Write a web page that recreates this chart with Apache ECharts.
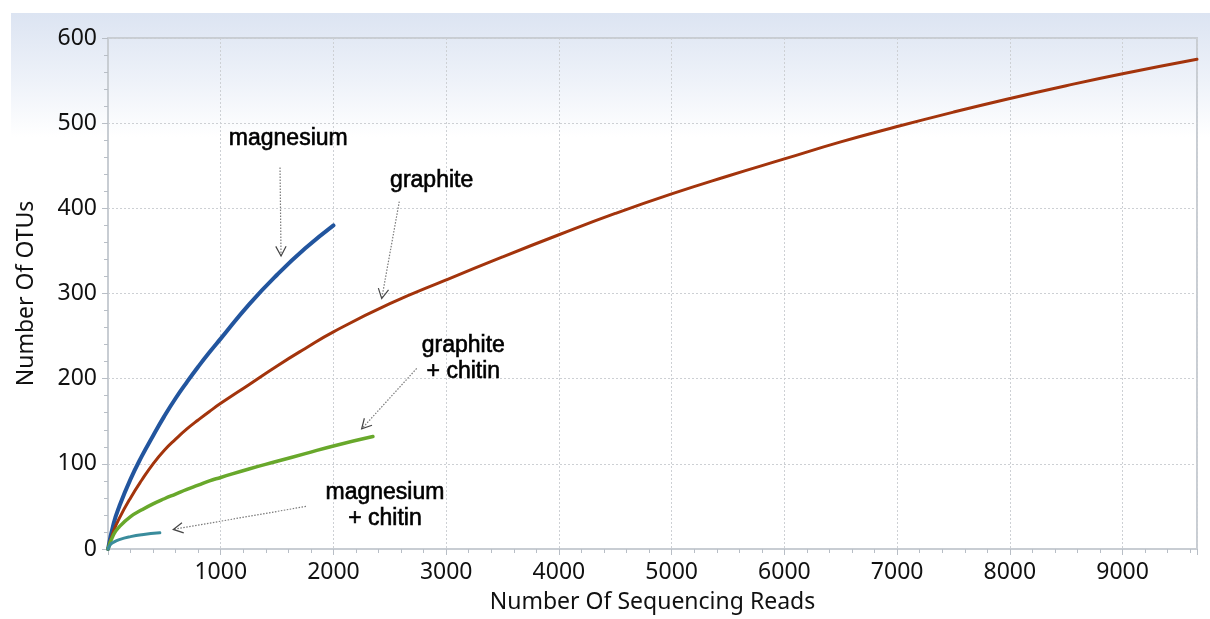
<!DOCTYPE html>
<html><head><meta charset="utf-8">
<script src="https://cdn.jsdelivr.net/npm/echarts@6/dist/echarts.min.js"></script>
<style>html,body{margin:0;padding:0;background:#fff}#c{width:1210px;height:619px}</style>
</head><body><div id="c"></div>
<script>
// ---- data ----
const magnesium = [[0,0],[50,30],[100,50],[200,82],[300,109],[400,133],[500,156],[600,177],[700,196],[800,214],[900,231],[1000,247],[1250,287],[1500,322],[1750,353],[2000,380]];
const graphite = [[0,0],[50,21],[100,36],[200,60],[300,81],[400,100],[500,116],[600,129],[700,141],[800,151.5],[900,161.5],[1000,171],[1250,193],[1500,215],[1750,235.5],[2000,255],[2500,288],[3000,316],[3500,343],[4000,369],[4500,394],[5000,417],[5500,438],[6000,458],[6500,478],[7000,496],[7500,513],[8000,529],[8500,544],[9000,558],[9660,575]];
const graphiteChitin = [[0,0],[50,17],[100,26],[200,38],[300,46],[400,53],[500,59],[600,64.5],[700,70],[800,75],[900,80],[1000,84],[1250,94],[1500,103],[1750,112],[2000,121],[2350,132]];
const magnesiumChitin = [[0,0],[20,5],[50,8],[100,11],[200,14.5],[300,16.8],[460,19]];
const xTickLabels = [1000,2000,3000,4000,5000,6000,7000,8000,9000];
const yTickLabels = [0,100,200,300,400,500,600];
const xMax = 9660;

const annotations = [
  {text:'magnesium', at:[1599,482], from:[1526,448], to:[1535,344]},
  {text:'graphite', at:[2871,433], from:[2584,408], to:[2428,294]},
  {text:'graphite\n+ chitin', at:[3152,223], from:[2738,212], to:[2250,141]},
  {text:'magnesium\n+ chitin', at:[2457,51], from:[1756,50], to:[579,23]}
];

const FONT = '"Noto Sans", "DejaVu Sans", sans-serif';
const gridCol = '#cdd0d4';
const chart = echarts.init(document.getElementById('c'), null, {renderer:'canvas'});

function mkSeries(name, data, color, width){
  return {name, type:'line', data, smooth:0.5, showSymbol:false, symbol:'none',
    lineStyle:{color, width, cap:'round', join:'round'}, itemStyle:{color}, animation:false, z:3};
}

chart.setOption({
  animation:false,
  backgroundColor:'#ffffff',
  grid:{left:108, right:13, top:38, bottom:68, show:true, borderColor:'#c8cdd3', borderWidth:2, backgroundColor:'transparent'},
  xAxis:[{
    type:'value', min:0, max:xMax, interval:1000,
    name:'Number Of Sequencing Reads', nameLocation:'middle', nameGap:42,
    nameTextStyle:{fontFamily:FONT, fontSize:23, color:'#111'},
    axisLine:{show:true, lineStyle:{color:'#c8cdd3', width:2}},
    axisTick:{show:true, length:6, lineStyle:{color:'#b8bec6'}},
    axisLabel:{show:true, margin:12, fontFamily:FONT, fontSize:23, color:'#111',
      formatter:v => xTickLabels.indexOf(v) >= 0 ? String(v) : ''},
    splitLine:{show:true, lineStyle:{color:gridCol, type:[2,2], width:1}}
  },{
    type:'value', min:0, max:xMax, interval:200, position:'bottom',
    axisLine:{show:false}, axisLabel:{show:false}, splitLine:{show:false},
    axisTick:{show:true, length:4, lineStyle:{color:'#b8bec6'}}
  }],
  yAxis:{
    type:'value', min:0, max:600, interval:100,
    name:'Number Of OTUs', nameLocation:'middle', nameGap:70,
    nameTextStyle:{fontFamily:FONT, fontSize:23, color:'#111'},
    axisLine:{show:true, lineStyle:{color:'#c8cdd3', width:2}},
    axisTick:{show:true, length:6, lineStyle:{color:'#b8bec6'}},
    minorTick:{show:true, splitNumber:5, length:4, lineStyle:{color:'#b8bec6'}},
    axisLabel:{margin:11, fontFamily:FONT, fontSize:23, color:'#111',
      formatter:v => yTickLabels.indexOf(v) >= 0 ? String(v) : ''},
    splitLine:{show:true, lineStyle:{color:gridCol, type:[2,2], width:1}}
  },
  series:[
    mkSeries('magnesium', magnesium, '#22559e', 4),
    mkSeries('graphite', graphite, '#a3340c', 3),
    mkSeries('graphite + chitin', graphiteChitin, '#68a82b', 3.5),
    mkSeries('magnesium + chitin', magnesiumChitin, '#3a8c9c', 3)
  ]
});

const g = [{
  type:'rect', z:-10, silent:true,
  shape:{x:11, y:13, width:1199, height:124},
  style:{fill:new echarts.graphic.LinearGradient(0,0,0,1,[
    {offset:0, color:'#dce4f2'},{offset:0.55, color:'#eef2f9'},{offset:1, color:'#ffffff'}])}
}];
annotations.forEach(a => {
  const p = chart.convertToPixel({gridIndex:0}, a.at);
  const f = chart.convertToPixel({gridIndex:0}, a.from);
  const t = chart.convertToPixel({gridIndex:0}, a.to);
  g.push({type:'text', z:20, style:{text:a.text, x:p[0], y:p[1], align:'center', verticalAlign:'middle',
    font:'23px "Liberation Sans", Arial, sans-serif', fill:'#000', stroke:'#000', lineWidth:0.6, lineHeight:26}});
  g.push({type:'line', z:20, shape:{x1:f[0], y1:f[1], x2:t[0], y2:t[1]},
    style:{stroke:'#7a7a7a', lineWidth:1.2, lineDash:[1.5,1.5]}});
  const dx = t[0]-f[0], dy = t[1]-f[1], L = Math.hypot(dx,dy);
  const ux = dx/L, uy = dy/L, len = 11, th = 28*Math.PI/180;
  const w1 = [t[0] - len*(ux*Math.cos(th) - uy*Math.sin(th)), t[1] - len*(uy*Math.cos(th) + ux*Math.sin(th))];
  const w2 = [t[0] - len*(ux*Math.cos(th) + uy*Math.sin(th)), t[1] - len*(uy*Math.cos(th) - ux*Math.sin(th))];
  g.push({type:'polyline', z:20, shape:{points:[w1, t, w2]}, style:{stroke:'#444', lineWidth:1.2, fill:null}});
});
chart.setOption({graphic:g});
</script>
</body></html>
